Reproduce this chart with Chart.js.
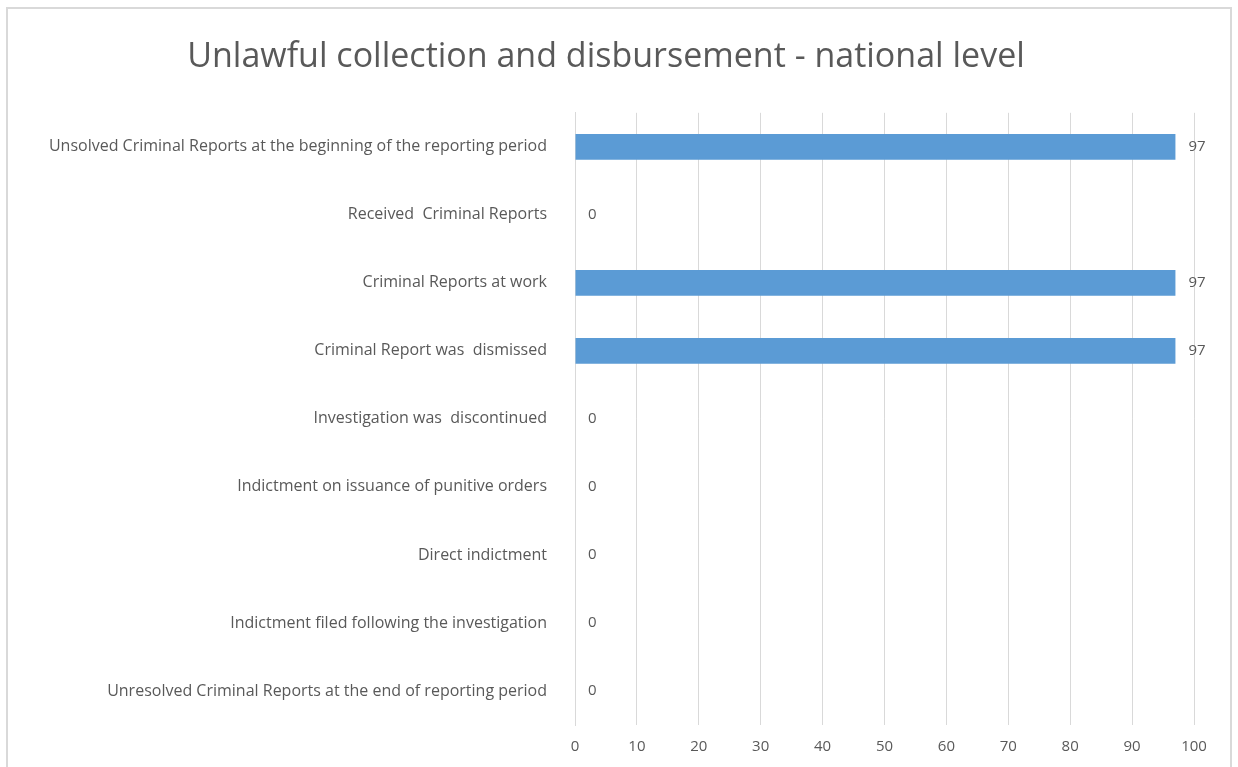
<!DOCTYPE html>
<html lang="en">
<head>
    <meta charset="UTF-8">
    <script src="https://cdn.jsdelivr.net/npm/chart.js@4.4.0/dist/chart.umd.min.js"></script>
    <title>Unlawful collection and disbursement</title>
    <style>
        body { margin: 0; background: #fff; }
        #frame {
            position: absolute; left: 6px; top: 7px;
            width: 1226px; height: 770px;
            border: 2px solid #d9d9d9; box-sizing: border-box;
        }
    </style>
</head>
<body>
    <div id="frame">
        <canvas id="mychart-bar" width="1222" height="766"></canvas>
    </div>
    <script>
        var categories = [
            "Unsolved Criminal Reports at the beginning of the reporting period",
            "Received  Criminal Reports",
            "Criminal Reports at work",
            "Criminal Report was  dismissed",
            "Investigation was  discontinued",
            "Indictment on issuance of punitive orders",
            "Direct indictment",
            "Indictment filed following the investigation",
            "Unresolved Criminal Reports at the end of reporting period"
        ];
        var reports = [97, 0, 97, 97, 0, 0, 0, 0, 0];
        var xTicks = [0, 10, 20, 30, 40, 50, 60, 70, 80, 90, 100];

        // value text just right of each bar end
        var valueLabels = {
            id: 'valueLabels',
            afterDatasetsDraw: function(chart) {
                var c = chart.ctx;
                var meta = chart.getDatasetMeta(0);
                c.save();
                c.font = '15px "Open Sans"';
                c.fillStyle = '#595959';
                c.textBaseline = 'middle';
                meta.data.forEach(function(bar, i) {
                    c.fillText(reports[i], bar.x + 13, bar.y);
                });
                c.restore();
            }
        };

        var ctx = document.getElementById('mychart-bar');
        var myChart = new Chart(ctx, {
            type: 'bar',
            data: {
                labels: categories,
                datasets: [{
                    data: reports,
                    backgroundColor: '#5b9bd5',
                    borderWidth: 0,
                    barPercentage: 0.76,
                    categoryPercentage: 0.5
                }]
            },
            options: {
                indexAxis: 'y',
                responsive: false,
                animation: false,
                layout: { padding: { top: 10, right: 36, bottom: 6, left: 10 } },
                plugins: {
                    legend: { display: false },
                    tooltip: { enabled: false },
                    title: {
                        display: true,
                        text: 'Unlawful collection and disbursement - national level',
                        color: '#595959',
                        font: { family: 'Open Sans', size: 34, weight: 'normal' },
                        padding: { top: 18, bottom: 35 }
                    }
                },
                scales: {
                    x: {
                        min: 0, max: 100,
                        afterBuildTicks: function(axis) {
                            axis.ticks = xTicks.map(function(v) { return { value: v }; });
                        },
                        grid: { color: '#d9d9d9', drawTicks: false },
                        border: { display: false },
                        ticks: {
                            color: '#595959', padding: 13,
                            font: { family: 'Open Sans', size: 15 }
                        }
                    },
                    y: {
                        afterFit: function(axis) { axis.width = 557; },
                        grid: { display: false },
                        border: { color: '#d9d9d9' },
                        ticks: {
                            color: '#595959', padding: 20,
                            font: { family: 'Open Sans', size: 16 }
                        }
                    }
                }
            },
            plugins: [valueLabels]
        });
    </script>
</body>
</html>
